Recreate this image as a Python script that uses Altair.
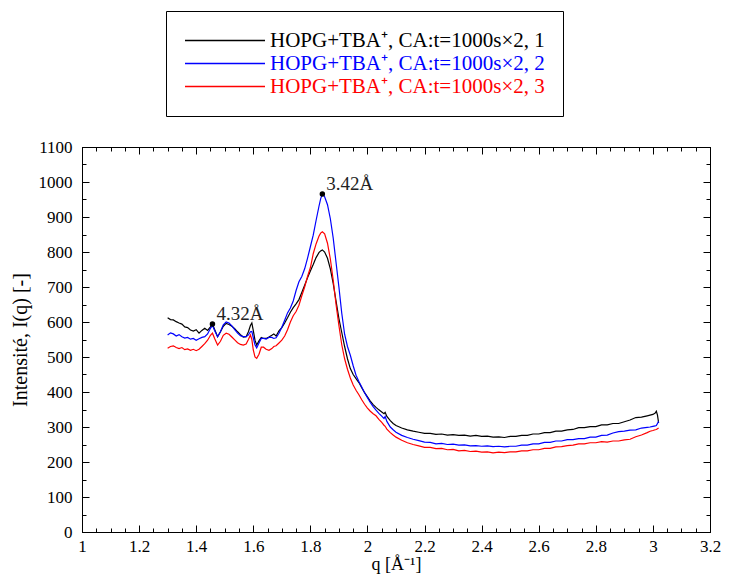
import altair as alt
import pandas as pd

# ---------------- data ----------------
Q = [1.300, 1.310, 1.320, 1.330, 1.340, 1.350, 1.360, 1.370, 1.380, 1.390,
     1.400, 1.410, 1.420, 1.430, 1.440, 1.450, 1.457, 1.465, 1.475, 1.485,
     1.495, 1.505, 1.515, 1.525, 1.535, 1.545, 1.555, 1.565, 1.575, 1.583,
     1.590, 1.595, 1.600, 1.606, 1.612, 1.620, 1.628, 1.636, 1.645, 1.655,
     1.665, 1.672, 1.680, 1.690, 1.700, 1.710, 1.720, 1.730, 1.740, 1.750,
     1.760, 1.770, 1.780, 1.790, 1.800, 1.810, 1.820, 1.830, 1.836, 1.842,
     1.850, 1.860, 1.870, 1.880, 1.890, 1.900, 1.910, 1.920, 1.930, 1.940,
     1.950, 1.960, 1.970, 1.980, 1.990, 2.000, 2.010, 2.020, 2.030, 2.040,
     2.050, 2.058, 2.062, 2.068, 2.080, 2.090, 2.100, 2.120, 2.140, 2.160,
     2.180, 2.200, 2.220, 2.240, 2.260, 2.280, 2.300, 2.320, 2.340, 2.360,
     2.380, 2.400, 2.420, 2.440, 2.460, 2.480, 2.500, 2.520, 2.540, 2.560,
     2.580, 2.600, 2.620, 2.640, 2.660, 2.680, 2.700, 2.720, 2.740, 2.760,
     2.780, 2.800, 2.820, 2.840, 2.860, 2.880, 2.900, 2.920, 2.940, 2.960,
     2.980, 2.990, 3.000, 3.008, 3.012, 3.016, 3.020]

I1 = [612, 607, 606, 601, 597, 594, 586, 584, 577, 574,
      578, 568, 576, 582, 576, 586, 594, 578, 558, 572,
      588, 596, 593, 588, 581, 572, 564, 557, 558, 572,
      590, 597, 576, 548, 534, 546, 556, 553, 553, 557,
      562, 566, 560, 575, 584, 597, 612, 628, 641, 652,
      664, 684, 705, 726, 746, 764, 784, 798, 803, 806,
      800, 782, 752, 710, 660, 610, 570, 530, 495, 467,
      450, 438, 427, 412, 398, 386, 374, 364, 356, 349,
      343, 338, 342, 330, 318, 310, 304, 297, 292, 288,
      285, 282, 282, 279, 280, 277, 278, 276, 277, 274,
      276, 273, 274, 271, 272, 270, 273, 273, 276, 276,
      280, 280, 284, 284, 288, 288, 292, 293, 298, 298,
      301, 301, 306, 306, 310, 310, 315, 320, 327, 328,
      332, 334, 336, 340, 345, 334, 312]

I2 = [563, 569, 566, 560, 564, 558, 554, 556, 551, 553,
      548, 552, 556, 558, 566, 582, 590, 575, 558, 572,
      592, 600, 597, 589, 578, 568, 561, 558, 558, 563,
      572, 573, 555, 535, 526, 540, 553, 553, 551, 556,
      556, 553, 555, 568, 585, 605, 626, 640, 660, 690,
      715, 730, 752, 782, 815, 848, 890, 930, 952, 966,
      958, 935, 895, 840, 770, 700, 625, 565, 530, 505,
      475, 448, 430, 414, 398, 384, 370, 358, 348, 339,
      331, 324, 330, 316, 300, 292, 285, 276, 270, 265,
      261, 257, 256, 252, 253, 250, 251, 248, 249, 246,
      247, 245, 246, 244, 245, 243, 245, 245, 248, 248,
      252, 252, 256, 256, 260, 260, 264, 264, 267, 267,
      271, 271, 276, 277, 283, 287, 288, 291, 292, 297,
      299, 300, 302, 303, 304, 310, 316]

I3 = [525, 530, 532, 527, 524, 527, 521, 523, 519, 522,
      518, 522, 530, 538, 548, 562, 568, 552, 534, 545,
      562, 568, 565, 557, 549, 541, 536, 534, 537, 550,
      563, 550, 520, 500, 496, 508, 528, 528, 522, 519,
      524, 530, 532, 540, 548, 560, 578, 600, 618, 630,
      648, 675, 700, 730, 755, 795, 823, 845, 854, 858,
      852, 825, 780, 720, 650, 590, 535, 495, 465, 440,
      420, 405, 392, 378, 365, 354, 345, 338, 332, 322,
      313, 305, 302, 294, 284, 277, 271, 262, 255, 250,
      246, 242, 242, 238, 239, 235, 236, 232, 233, 230,
      231, 228, 229, 226, 228, 227, 229, 229, 232, 232,
      235, 235, 239, 239, 243, 244, 247, 248, 252, 252,
      255, 255, 258, 257, 260, 260, 263, 265, 272, 277,
      284, 288, 290, 292, 293, 295, 297]

SERIES = ["HOPG+TBA⁺, CA:t=1000s×2, 1",
          "HOPG+TBA⁺, CA:t=1000s×2, 2",
          "HOPG+TBA⁺, CA:t=1000s×2, 3"]
COLORS = ["#000000", "#0000ff", "#ff0000"]

PEAK_Q = [1.457, 1.842]
PEAK_I = [594, 966]
PEAK_LABEL = ["4.32Å", "3.42Å"]

X_TICKS = [1.0, 1.2, 1.4, 1.6, 1.8, 2.0, 2.2, 2.4, 2.6, 2.8, 3.0, 3.2]
Y_TICKS = [0, 100, 200, 300, 400, 500, 600, 700, 800, 900, 1000, 1100]
X_MINOR = [round(1.0 + 0.05 * k, 2) for k in range(45)]
Y_MINOR = [50 * k for k in range(23)]

# ---------------- tables ----------------
rows = []
for name, vals in zip(SERIES, [I1, I2, I3]):
    for q, v in zip(Q, vals):
        rows.append({"q": q, "I": v, "series": name})
df = pd.DataFrame(rows)
peaks = pd.DataFrame({"q": PEAK_Q, "I": PEAK_I, "label": PEAK_LABEL})

FONT = "Liberation Serif"
xs = alt.Scale(domain=[1, 3.2], nice=False, zero=False)
ys = alt.Scale(domain=[0, 1100], nice=False, zero=False)


def tick_axis(orient, values, size):
    return alt.Axis(orient=orient, values=values, labels=False, domain=False,
                    ticks=True, tickSize={"expr": str(-size)}, grid=False,
                    title=None, offset=0)


x_main = alt.Axis(orient="bottom", values=X_TICKS, format="~g", labelFlush=False,
                  labelOverlap=False, ticks=False, domain=False, grid=False,
                  labelPadding=6, labelFontSize=17, title="q [Å⁻¹]",
                  titleFontSize=18, titlePadding=1, offset=0)
y_main = alt.Axis(orient="left", values=Y_TICKS, format="d", labelFlush=False,
                  labelOverlap=False, ticks=False, domain=False, grid=False,
                  labelPadding=10, labelFontSize=17, title="Intensité, I(q) [-]",
                  titleFontSize=20, titlePadding=8, offset=0)

legend = alt.Legend(title=None, orient="none", legendX=84, legendY=-136,
                    direction="vertical", strokeColor="black", fillColor="white",
                    padding=18, symbolType="stroke", symbolSize=6400,
                    symbolStrokeWidth=1.3, clipHeight=23, rowPadding=0,
                    labelFont=FONT, labelFontSize=21, labelOffset=4,
                    labelLimit=600, cornerRadius=0,
                    labelColor={"expr": "scale('color', datum.value)"})

lines = alt.Chart(df).mark_line(strokeWidth=1.2).encode(
    x=alt.X("q:Q", scale=xs, axis=x_main),
    y=alt.Y("I:Q", scale=ys, axis=y_main),
    color=alt.Color("series:N", scale=alt.Scale(domain=SERIES, range=COLORS),
                    legend=legend),
)

dots = alt.Chart(peaks).mark_circle(size=30, color="black", opacity=1).encode(
    x=alt.X("q:Q", scale=xs, axis=tick_axis("bottom", X_TICKS, 7)),
    y=alt.Y("I:Q", scale=ys, axis=tick_axis("left", Y_TICKS, 7)),
)

texts = alt.Chart(peaks).mark_text(align="left", baseline="middle", dx=4, dy=-10,
                                   font=FONT, fontSize=19, color="#222222").encode(
    x=alt.X("q:Q", scale=xs, axis=tick_axis("bottom", X_MINOR, 4)),
    y=alt.Y("I:Q", scale=ys, axis=tick_axis("left", Y_MINOR, 4)),
    text="label:N",
)

top_major = alt.Chart(peaks).mark_point(opacity=0).encode(
    x=alt.X("q:Q", scale=xs, axis=tick_axis("top", X_TICKS, 7)),
    y=alt.Y("I:Q", scale=ys, axis=tick_axis("right", Y_TICKS, 7)),
)

top_minor = alt.Chart(peaks).mark_point(opacity=0).encode(
    x=alt.X("q:Q", scale=xs, axis=tick_axis("top", X_MINOR, 4)),
    y=alt.Y("I:Q", scale=ys, axis=tick_axis("right", Y_MINOR, 4)),
)

chart = (
    alt.layer(lines, dots, texts, top_major, top_minor)
    .resolve_axis(x="independent", y="independent")
    .properties(width=628, height=385,
                padding={"left": 74, "top": 139, "right": 11, "bottom": 43},
                autosize=alt.AutoSizeParams(type="none"),
                background="white")
    .configure_view(stroke="black", strokeWidth=1)
    .configure_axis(domainColor="black", tickColor="black", labelColor="black",
                    titleColor="black", labelFont=FONT, titleFont=FONT,
                    titleFontWeight="normal", tickWidth=1)
)

chart.save("out.html", embed_options={"renderer": "svg", "actions": False})
